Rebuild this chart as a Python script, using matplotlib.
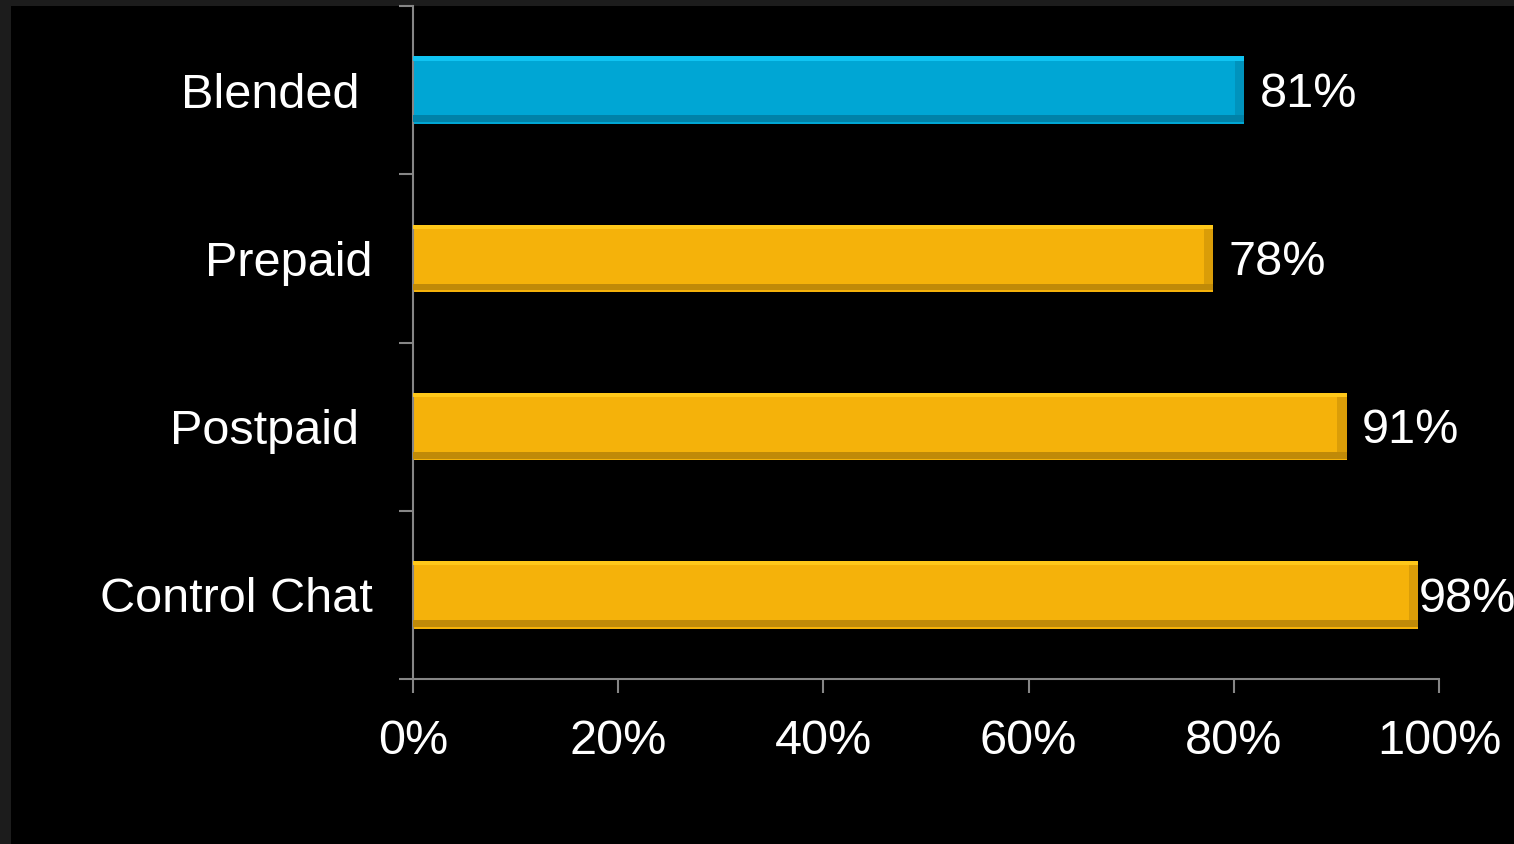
import matplotlib.pyplot as plt
from matplotlib.patches import Rectangle
from matplotlib.ticker import FixedLocator, PercentFormatter

plt.rcParams['font.family'] = ['Liberation Sans', 'DejaVu Sans']

# data
categories = ['Blended ', 'Prepaid', 'Postpaid ', 'Control Chat']
values = [81, 78, 91, 98]
face = ['#00a6d4', '#f5b20a', '#f5b20a', '#f5b20a']
light = ['#10c4f2', '#ffc81a', '#ffc81a', '#ffc81a']
dark = ['#0082a8', '#c08a08', '#c08a08', '#c08a08']
xticks = [0, 20, 40, 60, 80, 100]

W, H = 1514, 844
fig = plt.figure(figsize=(W / 100, H / 100), dpi=100, facecolor='#1c1c1c')
fig.patches.append(Rectangle((11 / W, 0), 1, (H - 6) / H, transform=fig.transFigure,
                             facecolor='black', edgecolor='none', zorder=-5))

ax = fig.add_axes([413 / W, (H - 679) / H, (1439 - 413) / W, (679 - 6) / H])
ax.set_facecolor('black')
ax.set_zorder(1)

y = list(range(len(categories)))
bh = 0.4
ax.barh(y, values, height=bh, color=face, zorder=2)
# bevel: light top edge, dark bottom edge and right end
ax.barh([i - bh / 2 + 0.012 for i in y], values, height=0.024, color=light, zorder=3)
ax.barh([i + bh / 2 - 0.03 for i in y], values, height=0.04, color=dark, zorder=3)
ax.barh(y, [0.9] * len(values), left=[v - 0.9 for v in values], height=bh - 0.05,
        color=dark, alpha=0.5, zorder=3)

# labels; the last one is pushed back to fit inside the slide
for i, v in enumerate(values):
    ax.text(min(v + 1.5, 98), i + 0.025, f'{v}%', va='center', ha='left',
            color='white', fontsize=35, clip_on=False)

ax.set_xlim(0, 100)
ax.set_ylim(len(categories) - 0.5, -0.5)

ax.set_xticks(xticks)
ax.xaxis.set_major_formatter(PercentFormatter(decimals=0))
ax.set_yticks(y)
ax.set_yticklabels(categories)
ax.yaxis.set_minor_locator(FixedLocator([i - 0.5 for i in range(len(categories) + 1)]))

ax.tick_params(axis='x', colors='#868686', labelcolor='white', labelsize=35,
               length=10, width=1.5, pad=19)
ax.tick_params(axis='y', which='major', length=0, labelcolor='white', labelsize=35, pad=29)
ax.tick_params(axis='y', which='minor', length=10, width=1.5, color='#868686')

for s in ['top', 'right']:
    ax.spines[s].set_visible(False)
for s in ['left', 'bottom']:
    ax.spines[s].set_color('#868686')
    ax.spines[s].set_linewidth(1.5)

fig.savefig('out.png', dpi=100, facecolor=fig.get_facecolor())
